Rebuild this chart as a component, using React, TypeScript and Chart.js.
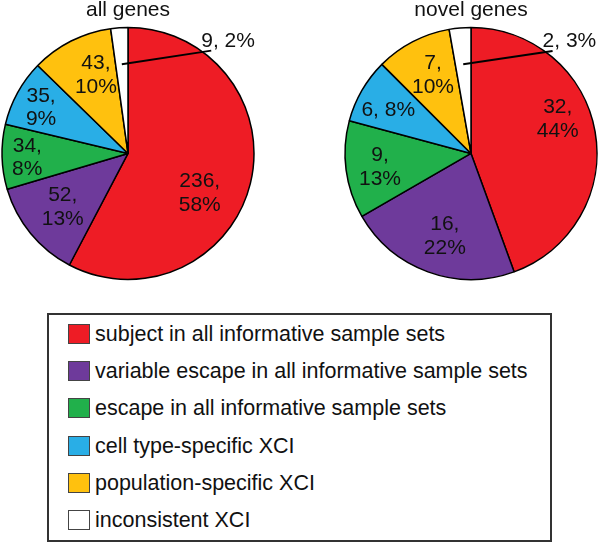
import React, { useEffect, useRef } from "react";
import { Chart, registerables } from "chart.js";

Chart.register(...registerables);

// ---- data ----
const categories = [
  "subject in all informative sample sets",
  "variable escape in all informative sample sets",
  "escape in all informative sample sets",
  "cell type-specific XCI",
  "population-specific XCI",
  "inconsistent XCI",
];
const sliceColors = ["#EE1C25", "#6E3A9B", "#21B04B", "#29AEE6", "#FFC10E", "#FFFFFF"];
const allGenesCounts = [236, 52, 34, 35, 43, 9];
const allGenesPercents = [58, 13, 8, 9, 10, 2];
const novelGenesCounts = [32, 16, 9, 6, 7, 2];
const novelGenesPercents = [44, 22, 13, 8, 10, 3];
const allGenesTitle = "all genes";
const novelGenesTitle = "novel genes";

// ---- layout / style ----
const FONT = "'Liberation Sans', Arial, Helvetica, sans-serif";
const TEXT = "#111";

type PieLayout = {
  left: number;
  padL: number;
  padR: number;
  labelR: number[];
  labelShift: number[];
  oneLine: boolean[];
  calloutAngle: number;
  calloutR: number;
};

const allLayout: PieLayout = {
  left: 0,
  padL: 0,
  padR: 44,
  labelR: [0.65, 0.67, 0.8, 0.78, 0.67],
  labelShift: [15, 0, -1, -1, 4.5],
  oneLine: [false, false, false, false, false],
  calloutAngle: 39,
  calloutR: 1.05,
};
const novelLayout: PieLayout = {
  left: 300,
  padL: 42,
  padR: 0,
  labelR: [0.74, 0.69, 0.73, 0.74, 0.69],
  labelShift: [-11.5, -2.5, -1, -2.5, 1.6],
  oneLine: [false, false, false, true, false],
  calloutAngle: 38.5,
  calloutR: 1.04,
};

const deg = Math.PI / 180;

function makeSliceLabelPlugin(counts: number[], percents: number[], layout: PieLayout) {
  return {
    id: "sliceLabels",
    afterDatasetsDraw(chart: any) {
      const meta = chart.getDatasetMeta(0);
      const ctx: CanvasRenderingContext2D = chart.ctx;
      ctx.save();
      ctx.font = `21px ${FONT}`;
      ctx.fillStyle = TEXT;
      meta.data.forEach((arc: any, i: number) => {
        const { x, y, startAngle, endAngle, outerRadius } = arc.getProps(
          ["x", "y", "startAngle", "endAngle", "outerRadius"],
          true
        );
        const mid = (startAngle + endAngle) / 2;
        if (i === counts.length - 1) {
          // callout for the small last slice
          const sx = x + Math.cos(mid) * outerRadius * 0.71;
          const sy = y + Math.sin(mid) * outerRadius * 0.71;
          const ea = -Math.PI / 2 + layout.calloutAngle * deg;
          const ex = x + Math.cos(ea) * outerRadius * layout.calloutR;
          const ey = y + Math.sin(ea) * outerRadius * layout.calloutR;
          ctx.beginPath();
          ctx.moveTo(sx, sy);
          ctx.lineTo(ex, ey);
          ctx.lineWidth = 2;
          ctx.strokeStyle = "#000";
          ctx.stroke();
          ctx.textAlign = "left";
          ctx.textBaseline = "alphabetic";
          ctx.fillText(`${counts[i]}, ${percents[i]}%`, ex - 10, ey - 4);
          return;
        }
        const a = mid + layout.labelShift[i] * deg;
        const r = outerRadius * layout.labelR[i];
        const cx = x + Math.cos(a) * r;
        const cy = y + Math.sin(a) * r;
        ctx.textAlign = "center";
        ctx.textBaseline = "middle";
        if (layout.oneLine[i]) {
          ctx.fillText(`${counts[i]}, ${percents[i]}%`, cx, cy);
        } else {
          ctx.fillText(`${counts[i]},`, cx, cy - 11.75);
          ctx.fillText(`${percents[i]}%`, cx, cy + 11.75);
        }
      });
      ctx.restore();
    },
  };
}

function PieChart({
  title,
  counts,
  percents,
  layout,
}: {
  title: string;
  counts: number[];
  percents: number[];
  layout: PieLayout;
}) {
  const ref = useRef<HTMLCanvasElement>(null);
  useEffect(() => {
    const chart = new Chart(ref.current as HTMLCanvasElement, {
      type: "pie",
      data: {
        labels: categories,
        datasets: [
          {
            data: counts,
            backgroundColor: sliceColors,
            borderColor: "#000",
            borderWidth: 1.5,
            radius: 126,
          } as any,
        ],
      },
      options: {
        responsive: false,
        animation: false,
        events: [],
        layout: { padding: { left: layout.padL, right: layout.padR, top: 0, bottom: 12 } },
        plugins: {
          legend: { display: false },
          tooltip: { enabled: false },
          title: {
            display: true,
            text: title,
            color: TEXT,
            font: { family: FONT, size: 21, weight: "normal", lineHeight: 0.9 } as any,
            padding: { top: 1, bottom: 9 },
          },
        },
      } as any,
      plugins: [makeSliceLabelPlugin(counts, percents, layout)],
    });
    return () => chart.destroy();
  }, []);
  return (
    <canvas
      ref={ref}
      width={300}
      height={290}
      style={{ position: "absolute", left: layout.left, top: 0, width: 300, height: 290 }}
    />
  );
}

function Legend() {
  return (
    <div
      style={{
        position: "absolute",
        left: 47,
        top: 313,
        width: 505,
        height: 229,
        boxSizing: "border-box",
        border: "2px solid #333",
        paddingTop: 0.4,
        fontFamily: FONT,
        fontSize: 21.5,
        color: TEXT,
      }}
    >
      {categories.map((c, i) => (
        <div key={c} style={{ height: 37.2, display: "flex", alignItems: "center" }}>
          <div
            style={{
              width: 22,
              height: 20,
              marginLeft: 19,
              marginRight: 5,
              boxSizing: "border-box",
              border: "1.5px solid #444",
              background: sliceColors[i],
              flex: "none",
            }}
          />
          <span style={{ whiteSpace: "nowrap", lineHeight: "24px" }}>{c}</span>
        </div>
      ))}
    </div>
  );
}

export default function App() {
  return (
    <div
      style={{
        position: "absolute",
        left: 0,
        top: 0,
        width: 600,
        height: 544,
        background: "#fff",
        overflow: "hidden",
      }}
    >
      <PieChart title={allGenesTitle} counts={allGenesCounts} percents={allGenesPercents} layout={allLayout} />
      <PieChart
        title={novelGenesTitle}
        counts={novelGenesCounts}
        percents={novelGenesPercents}
        layout={novelLayout}
      />
      <Legend />
    </div>
  );
}
